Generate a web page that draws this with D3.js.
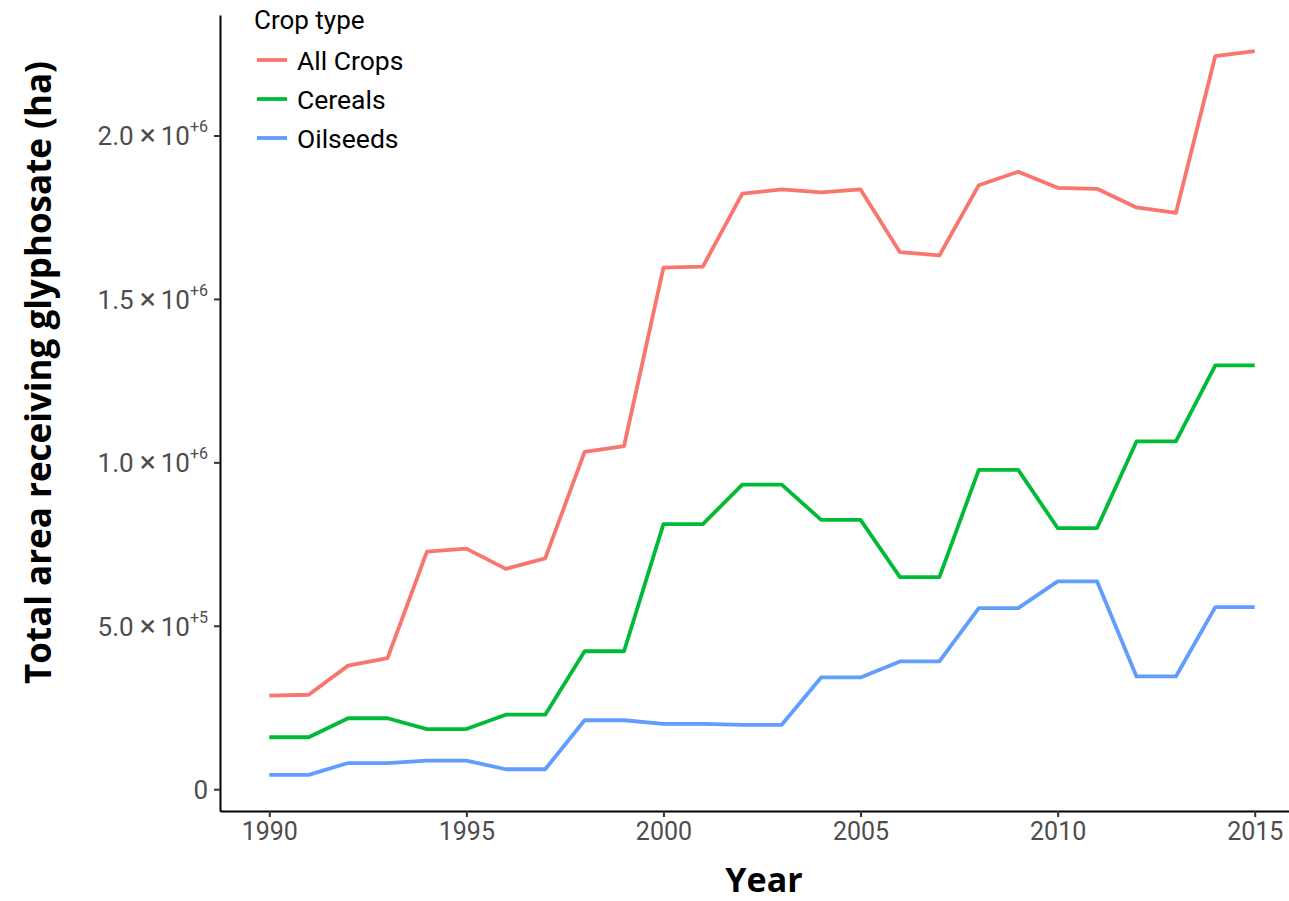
<!DOCTYPE html>
<html>
<head>
<meta charset="utf-8">
<script src="https://cdn.jsdelivr.net/npm/d3@7"></script>
<style>
  html, body { margin: 0; padding: 0; background: #ffffff; }
  svg { display: block; }
</style>
</head>
<body>
<div id="chart"></div>
<script>
// Years of the survey
const years = [1990, 1991, 1992, 1993, 1994, 1995, 1996, 1997, 1998, 1999,
               2000, 2001, 2002, 2003, 2004, 2005, 2006, 2007, 2008, 2009,
               2010, 2011, 2012, 2013, 2014, 2015];

// Total area receiving glyphosate (ha) per crop group
const allCrops = [286000, 289000, 378000, 401000, 727000, 736000, 674000, 706000, 1032000, 1050000,
                  1596000, 1599000, 1822000, 1835000, 1826000, 1835000, 1643000, 1633000, 1848000, 1889000,
                  1840000, 1837000, 1780000, 1763000, 2243000, 2258000];
const cereals  = [159000, 159000, 217000, 217000, 184000, 184000, 228000, 228000, 422000, 422000,
                  811000, 811000, 932000, 932000, 824000, 824000, 649000, 649000, 977000, 977000,
                  799000, 799000, 1064000, 1064000, 1297000, 1297000];
const oilseeds = [44000, 44000, 80000, 80000, 87500, 87500, 61000, 61000, 211000, 211000,
                  200000, 200000, 197000, 197000, 342000, 342000, 391000, 391000, 554000, 554000,
                  636000, 636000, 345000, 345000, 557000, 557000];

const seriesNames  = ["All Crops", "Cereals", "Oilseeds"];
const seriesColors = ["#F8766D", "#00BA38", "#619CFF"];

// Axis ticks
const xTicks = [1990, 1995, 2000, 2005, 2010, 2015];
const yTicks = [0, 500000, 1000000, 1500000, 2000000];
const yTickMantissa = ["0", "5.0", "1.0", "1.5", "2.0"];
const yTickExponent = ["", "+5", "+6", "+6", "+6"];

const W = 1289, H = 901;
const panel = { left: 220, right: 1304, top: 15, bottom: 811 };

const series = [allCrops, cereals, oilseeds].map((vals, i) => ({
  name: seriesNames[i],
  color: seriesColors[i],
  points: years.map((yr, j) => ({ year: yr, value: vals[j] }))
}));

// Continuous scales expanded by 5% on each side
const xMin = d3.min(years), xMax = d3.max(years);
const xPad = (xMax - xMin) * 0.05;
const x = d3.scaleLinear()
  .domain([xMin - xPad, xMax + xPad])
  .range([panel.left, panel.right]);

const allVals = [].concat(allCrops, cereals, oilseeds);
const yMin = d3.min(allVals), yMax = d3.max(allVals);
const yPad = (yMax - yMin) * 0.05;
const y = d3.scaleLinear()
  .domain([yMin - yPad, yMax + yPad])
  .range([panel.bottom, panel.top]);

const svg = d3.select("#chart").append("svg")
  .attr("width", W).attr("height", H);

// Data lines
const line = d3.line().x(d => x(d.year)).y(d => y(d.value));
svg.append("g").selectAll("path")
  .data(series)
  .join("path")
  .attr("d", d => line(d.points))
  .attr("fill", "none")
  .attr("stroke", d => d.color)
  .attr("stroke-width", 3.8)
  .attr("stroke-linejoin", "round");

// X axis
const xAxis = svg.append("g")
  .attr("transform", `translate(0,${panel.bottom})`)
  .call(d3.axisBottom(x).tickValues(xTicks).tickFormat(d3.format("d")).tickSize(6).tickSizeOuter(0));
xAxis.select(".domain").attr("stroke", "#000").attr("stroke-width", 2);
xAxis.selectAll(".tick line").attr("stroke", "#333333").attr("stroke-width", 2);
xAxis.selectAll(".tick text")
  .attr("y", 11).attr("dy", "0.71em")
  .attr("font-family", "Roboto, sans-serif").attr("font-size", 25)
  .attr("fill", "#4D4D4D");

// Y axis with scientific tick labels
const yAxis = svg.append("g")
  .attr("transform", `translate(${panel.left},0)`)
  .call(d3.axisLeft(y).tickValues(yTicks).tickFormat(() => "").tickSize(6).tickSizeOuter(0));
yAxis.select(".domain").attr("stroke", "#000").attr("stroke-width", 2);
yAxis.selectAll(".tick line").attr("stroke", "#333333").attr("stroke-width", 2);
yAxis.selectAll(".tick text").each(function (d, i) {
  const t = d3.select(this)
    .attr("x", -12).attr("dy", "0.36em")
    .attr("text-anchor", "end")
    .attr("font-family", "Roboto, sans-serif").attr("font-size", 26)
    .attr("fill", "#4D4D4D");
  t.text(null);
  if (!yTickExponent[i]) {
    t.append("tspan").text(yTickMantissa[i]);
    return;
  }
  t.append("tspan").text(yTickMantissa[i]);
  t.append("tspan").attr("dx", 6).attr("font-size", 30).text("\u00D7");
  t.append("tspan").attr("dx", 5).text("10");
  t.append("tspan").attr("dy", -13).attr("font-size", 16).text(yTickExponent[i]);
});

// Axis titles
svg.append("text")
  .attr("x", (panel.left + panel.right) / 2 + 2)
  .attr("y", 892)
  .attr("text-anchor", "middle")
  .attr("font-family", "'Open Sans', sans-serif")
  .attr("font-weight", "bold")
  .attr("font-size", 34)
  .attr("fill", "#000")
  .text("Year");

svg.append("text")
  .attr("transform", `translate(51,${(55 + 690) / 2}) rotate(-90)`)
  .attr("text-anchor", "middle")
  .attr("font-family", "'Open Sans', sans-serif")
  .attr("font-weight", "bold")
  .attr("font-size", 35)
  .attr("fill", "#000")
  .text("Total area receiving glyphosate (ha)");

// Legend
const legend = svg.append("g").attr("transform", "translate(254,0)");
legend.append("text")
  .attr("x", 0).attr("y", 29)
  .attr("font-family", "Roboto, sans-serif").attr("font-size", 26)
  .attr("fill", "#000")
  .text("Crop type");
const item = legend.selectAll("g.item")
  .data(series)
  .join("g")
  .attr("class", "item")
  .attr("transform", (d, i) => `translate(0,${60 + i * 39})`);
item.append("line")
  .attr("x1", 3).attr("x2", 33).attr("y1", 0).attr("y2", 0)
  .attr("stroke", d => d.color).attr("stroke-width", 3.8);
item.append("text")
  .attr("x", 43).attr("y", 0).attr("dy", "0.36em")
  .attr("font-family", "Roboto, sans-serif").attr("font-size", 26.5)
  .attr("fill", "#000")
  .text(d => d.name);
</script>
</body>
</html>
